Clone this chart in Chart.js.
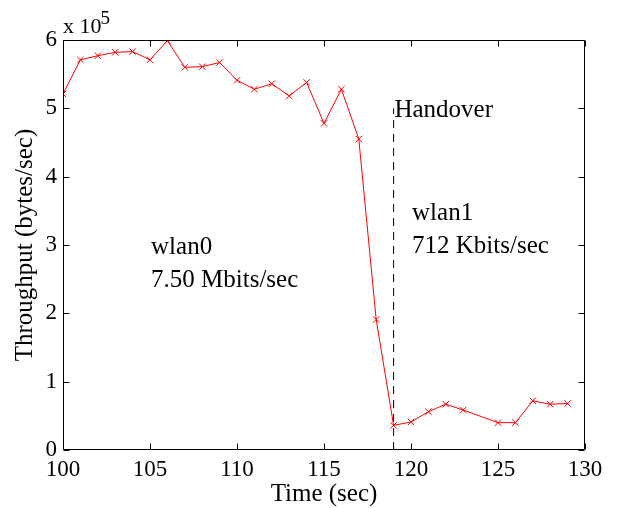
<!DOCTYPE html>
<html><head><meta charset="utf-8">
<script src="https://cdn.jsdelivr.net/npm/chart.js@4"></script>
<style>html,body{margin:0;padding:0;background:#fff}</style>
</head><body>
<canvas id="c" width="618" height="508"></canvas>
<script>
// ---- data (throughput in units of 10^5 bytes/sec) ----
const timeSec = [100,101,102,103,104,105,106,107,108,109,110,111,112,113,114,115,116,117,118,119,120,121,122,123,125,126,127,128,129];
const throughput = [5.21,5.71,5.77,5.82,5.83,5.71,5.99,5.60,5.61,5.67,5.41,5.28,5.36,5.18,5.38,4.78,5.28,4.55,1.91,0.36,0.41,0.56,0.67,0.585,0.40,0.40,0.72,0.67,0.68];
const handoverTime = [119,119];
const handoverLevel = [0,5];
const xTickValues = [100,105,110,115,120,125,130];
const yTickValues = [0,1,2,3,4,5,6];
const yExponentText = ['x 10','5'];
const notes = [
  {text:'Handover', x:119.05, y:4.87},
  {text:'wlan1', x:120.06, y:3.366},
  {text:'712 Kbits/sec', x:120.06, y:2.883},
  {text:'wlan0', x:105.06, y:2.868},
  {text:'7.50 Mbits/sec', x:105.06, y:2.385}
];

const FONT = '"Liberation Serif","Times New Roman",serif';

const framePlugin = {
  id:'frame',
  afterDraw(chart){
    const {ctx, chartArea:{left,right,top,bottom}, scales:{x,y}} = chart;
    ctx.save();
    ctx.strokeStyle = '#000';
    ctx.lineWidth = 1;
    const L = Math.round(left)+0.5, R = Math.round(right)-0.5, T = Math.round(top)+0.5, B = Math.round(bottom)-0.5;
    ctx.beginPath();
    ctx.rect(L, T, R-L, B-T);
    const tl = 6;
    xTickValues.forEach(v=>{
      const px = Math.round(x.getPixelForValue(v))+0.5;
      ctx.moveTo(px,B); ctx.lineTo(px,B-tl);
      ctx.moveTo(px,T); ctx.lineTo(px,T+tl);
    });
    yTickValues.forEach(v=>{
      const py = Math.round(y.getPixelForValue(v))+0.5;
      ctx.moveTo(L,py); ctx.lineTo(L+tl,py);
      ctx.moveTo(R,py); ctx.lineTo(R-tl,py);
    });
    ctx.stroke();
    // notes
    ctx.fillStyle = '#000';
    ctx.textBaseline = 'alphabetic';
    ctx.textAlign = 'left';
    ctx.font = '25px ' + FONT;
    notes.forEach(n=>{
      ctx.fillText(n.text, x.getPixelForValue(n.x), y.getPixelForValue(n.y));
    });
    // exponent
    ctx.font = '22px ' + FONT;
    ctx.fillText(yExponentText[0], left, top-7);
    const w = ctx.measureText(yExponentText[0]).width;
    ctx.font = '19px ' + FONT;
    ctx.fillText(yExponentText[1], left + w - 1, top-16);
    ctx.restore();
  }
};

new Chart(document.getElementById('c'), {
  type:'line',
  data:{
    datasets:[
      {
        data: timeSec.map((t,i)=>({x:t, y:throughput[i]})),
        borderColor:'#ff0000',
        borderWidth:1,
        pointStyle:'crossRot',
        pointRadius:4.5,
        pointBorderWidth:1,
        pointBorderColor:'#ff0000',
        tension:0,
        fill:false
      },
      {
        data: handoverTime.map((t,i)=>({x:t, y:handoverLevel[i]})),
        borderColor:'#000',
        borderWidth:1,
        borderDash:[8,6],
        pointRadius:0,
        fill:false
      }
    ]
  },
  options:{
    responsive:false,
    animation:false,
    events:[],
    layout:{padding:{top:40,right:33,left:0,bottom:0}},
    plugins:{legend:{display:false}, tooltip:{enabled:false}},
    scales:{
      x:{
        type:'linear', min:100, max:130,
        afterBuildTicks(s){ s.ticks = xTickValues.map(v=>({value:v})); },
        afterFit(s){ s.height = 58; },
        grid:{display:false, drawTicks:false}, border:{display:false},
        ticks:{font:{family:FONT,size:23}, color:'#000', padding:6, maxRotation:0},
        title:{display:true, text:'Time (sec)', font:{family:FONT,size:25,lineHeight:1.1}, color:'#000', padding:{top:0,bottom:0}}
      },
      y:{
        type:'linear', min:0, max:6,
        afterBuildTicks(s){ s.ticks = yTickValues.map(v=>({value:v})); },
        afterFit(s){ s.width = 63; },
        grid:{display:false, drawTicks:false}, border:{display:false},
        ticks:{font:{family:FONT,size:23}, color:'#000', padding:6},
        title:{display:true, text:'Throughput (bytes/sec)', font:{family:FONT,size:25}, color:'#000', padding:{top:10,bottom:0}}
      }
    }
  },
  plugins:[framePlugin]
});
</script>
</body></html>
